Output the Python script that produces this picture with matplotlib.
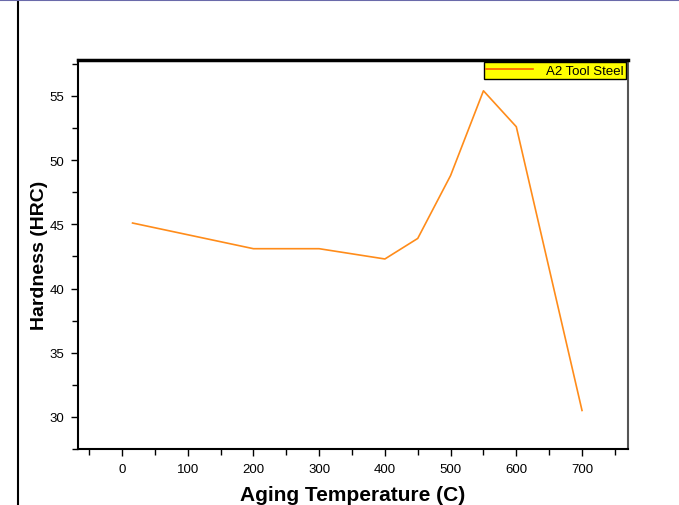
import matplotlib
matplotlib.use('Agg')
import matplotlib.pyplot as plt
from matplotlib.ticker import MultipleLocator
from matplotlib.lines import Line2D

plt.rcParams['font.family'] = ['Liberation Sans', 'DejaVu Sans']

# data
temp = [16, 200, 300, 400, 450, 500, 550, 600, 700]
hardness = [45.1, 43.1, 43.1, 42.3, 43.9, 48.8, 55.4, 52.6, 30.5]

fig = plt.figure(figsize=(6.79, 5.06), dpi=100)
ax = fig.add_axes([0.1149, 0.1107, 0.81, 0.7688])

ax.plot(temp, hardness, color='#ff8c1a', lw=1.2, label='A2 Tool Steel')

ax.set_xlim(-67, 770)
ax.set_ylim(27.5, 57.8)
ax.xaxis.set_major_locator(MultipleLocator(100))
ax.xaxis.set_minor_locator(MultipleLocator(50))
ax.yaxis.set_major_locator(MultipleLocator(5))
ax.yaxis.set_minor_locator(MultipleLocator(2.5))
ax.tick_params(which='both', direction='out', labelsize=9.5, colors='black')
ax.tick_params(which='major', length=5, width=1, pad=5)
ax.tick_params(which='minor', length=4, width=1)

ax.spines['top'].set_linewidth(2.5)
ax.spines['left'].set_linewidth(1.5)
ax.spines['bottom'].set_linewidth(1.5)
ax.spines['right'].set_color('#555555')
ax.spines['right'].set_linewidth(1.5)

ax.set_xlabel('Aging Temperature (C)', fontsize=15, fontweight='bold', labelpad=7)
ax.set_ylabel('Hardness (HRC)', fontsize=14, fontweight='bold', labelpad=1)

leg = ax.legend(loc='upper right', fontsize=9.5, frameon=True, fancybox=False,
                borderaxespad=0.15, handlelength=3.5, borderpad=0.2,
                handletextpad=1.0)
leg.get_frame().set_facecolor('yellow')
leg.get_frame().set_edgecolor('black')
leg.get_frame().set_alpha(1)
leg.get_lines()[0].set_color('#ff5a00')

# slide decorations
fig.add_artist(Line2D([18/679, 18/679], [0, 1], color='black', lw=1.5))
fig.add_artist(Line2D([0, 1], [1 - 0.5/506, 1 - 0.5/506], color='#6a6aaa', lw=1.5))

fig.savefig('out.png', dpi=100)
